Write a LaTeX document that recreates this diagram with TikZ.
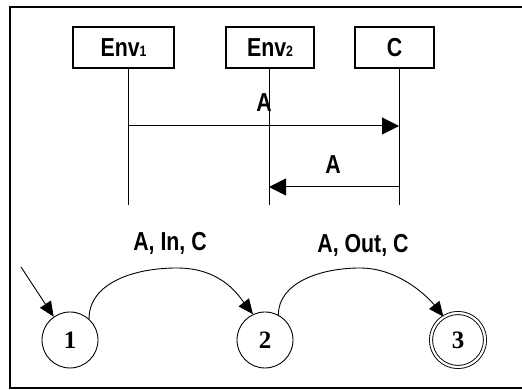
\documentclass[tikz,border=0pt]{standalone}
\usepackage{fontspec}
\setmainfont{Liberation Serif}
\newfontfamily\lab[FakeStretch=0.82]{Liberation Sans}
\usetikzlibrary{arrows.meta}
\tikzset{
  lbl/.style={font=\lab\bfseries\fontsize{26}{30}\selectfont, inner sep=0pt},
  actor/.style={draw, line width=1.2pt, minimum width=#1, minimum height=41pt, inner sep=0pt, font=\lab\bfseries\fontsize{26}{30}\selectfont},
  life/.style={line width=1pt},
  msg/.style={line width=1pt, -{Triangle[length=17pt,width=17pt]}},
  state/.style={draw, circle, line width=0.9pt, minimum size=56pt, inner sep=0pt, font=\bfseries\fontsize{25}{28}\selectfont},
  accept/.style={state, double, double distance=2.2pt, minimum size=54pt},
  trans/.style={line width=0.9pt, -{Triangle[length=15pt,width=13pt]}},
}
\newcommand{\sbs}[1]{{\fontsize{15}{15}\selectfont #1}}
\begin{document}
\begin{tikzpicture}[x=1pt,y=1pt]
\useasboundingbox (0,0) rectangle (522,390);
\clip (0,0) rectangle (522,390);
\draw[line width=1.3pt] (10,2) rectangle (540,383);
% actors
\node[actor=101pt] (e1) at (123.5,342.5) {Env\sbs{1}};
\node[actor=88pt] (e2) at (270,342.5) {Env\sbs{2}};
\node[actor=79pt] (c) at (394.5,342.5) {C};
\coordinate (e1b) at (128,185);
\coordinate (e2b) at (269,185);
\coordinate (cb) at (399,185);
\coordinate (e1t) at (128,322);
\coordinate (e2t) at (269,322);
\coordinate (ct) at (399,322);
\draw[life] (e1t) -- (e1b);
\draw[life] (e2t) -- (e2b);
\draw[life] (ct) -- (cb);
\coordinate (m1s) at (128,264);
\coordinate (m1e) at (399,264);
\coordinate (m2s) at (399,203);
\coordinate (m2e) at (269,203);
\draw[msg] (m1s) -- (m1e);
\draw[msg] (m2s) -- (m2e);
\node[lbl] (a1) at (264,287) {A};
\node[lbl] (a2) at (333,225) {A};
% automaton
\node[state] (s1) at (70,50) {1};
\node[state] (s2) at (265,50) {2};
\node[accept] (s3) at (458,50) {3};
\coordinate (init) at (21,123);
\draw[trans] (init) -- (s1.125);
\draw[trans] (s1.48) .. controls +(0,35) and +(-45,0) .. (177,122) .. controls +(45,0) and +(-14,18) .. (s2.115);
\draw[trans] (s2.62) .. controls +(0,32) and +(-40,0) .. (360,122) .. controls +(40,0) and +(-14,18) .. (s3.122);
\node[lbl] (t1) at (170,147) {A, In, C};
\node[lbl] (t2) at (363,145) {A, Out, C};
\end{tikzpicture}
\end{document}
